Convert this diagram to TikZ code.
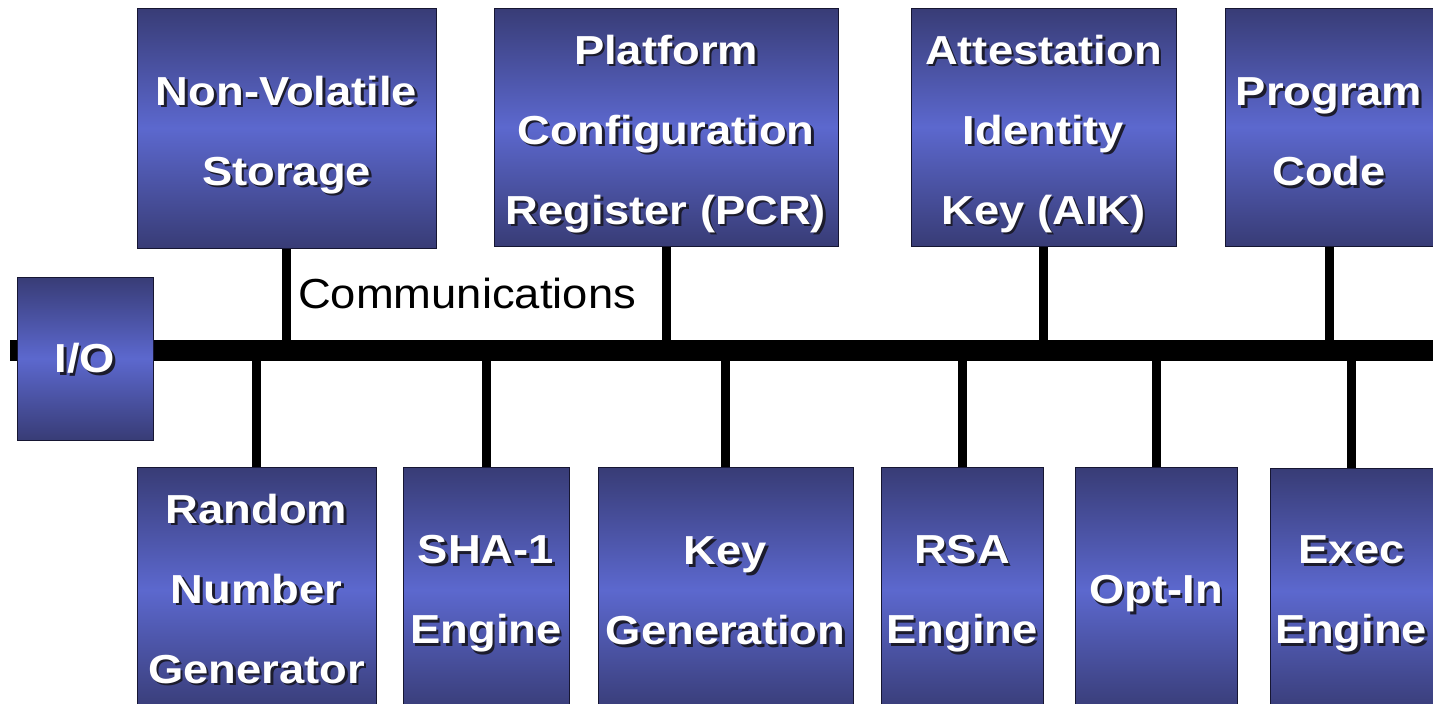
\documentclass[tikz,border=0pt]{standalone}
\usepackage{fontspec}
\setmainfont{Liberation Sans}
\newfontfamily\boxfont[FakeStretch=1.12]{Liberation Sans}
\newfontfamily\commfont[FakeStretch=1.08]{Liberation Sans}
\definecolor{boxdark}{RGB}{56,60,118}
\definecolor{boxlight}{RGB}{92,104,206}
\definecolor{boxedge}{RGB}{22,22,50}
\definecolor{shadowc}{RGB}{28,28,45}
\newcommand\boxlabel[3][0]{%
  \node[lblshadow] (#2-s) at ([shift={(2.5,2.5+#1)}]#2.center) {#3};
  \node[lbl] (#2-t) at ([shift={(0,#1)}]#2.center) {#3};}
\begin{document}
\begin{tikzpicture}[x=1pt,y=-1pt,
  box/.style={draw=boxedge, line width=1pt, top color=boxdark, bottom color=boxdark, middle color=boxlight, inner sep=0pt, outer sep=0pt},
  lbl/.style={text=white, font=\boxfont\bfseries\fontsize{40.5}{80}\selectfont, align=center, inner sep=0pt},
  lblshadow/.style={lbl, text=shadowc},
  busline/.style={line width=21pt},
  conn/.style={line width=9pt},
  slot/.style={inner sep=0pt, outer sep=0pt}]
\useasboundingbox (0,0) rectangle (1433,704);
\clip (0,0) rectangle (1433,704);
\fill[white] (0,0) rectangle (1433,704);

% box positions
\node[slot, minimum width=299pt, minimum height=240pt] (nv) at (286.5,128) {};
\node[slot, minimum width=344pt, minimum height=238pt] (pcr) at (666,127) {};
\node[slot, minimum width=265pt, minimum height=238pt] (aik) at (1043.5,127) {};
\node[slot, minimum width=208pt, minimum height=238pt] (prog) at (1329,127) {};
\node[slot, minimum width=136pt, minimum height=163pt] (io) at (85,358.5) {};
\node[slot, minimum width=239pt, minimum height=245pt] (rng) at (256.5,590) {};
\node[slot, minimum width=166pt, minimum height=245pt] (sha) at (486,590) {};
\node[slot, minimum width=255pt, minimum height=245pt] (kg) at (725.5,590) {};
\node[slot, minimum width=162pt, minimum height=245pt] (rsa) at (962,590) {};
\node[slot, minimum width=162pt, minimum height=245pt] (opt) at (1156,590) {};
\node[slot, minimum width=163pt, minimum height=245pt] (exec) at (1351.5,591) {};

% bus
\coordinate (busL) at (10,350);
\coordinate (busR) at (1440,350);
\draw[busline] (busL) -- (busR);
\foreach \n in {nv,pcr,aik,prog}
  \draw[conn] (\n.south) -- (\n.south |- busL);
\foreach \n in {rng,sha,kg,rsa,opt,exec}
  \draw[conn] (\n.north) -- (\n.north |- busL);

% shaded boxes
\foreach \n in {nv,pcr,aik,prog,io,rng,sha,kg,rsa,opt,exec}
  \path[box] (\n.north west) rectangle (\n.south east);

\boxlabel[7]{nv}{Non-Volatile\\Storage}
\boxlabel[7]{pcr}{Platform\\Configuration\\Register (PCR)}
\boxlabel[7]{aik}{Attestation\\Identity\\Key (AIK)}
\boxlabel[5]{prog}{Program\\Code}
\boxlabel{io}{I/O}
\boxlabel[-1]{rng}{Random\\Number\\Generator}
\boxlabel[4]{sha}{SHA-1\\Engine}
\boxlabel[1]{kg}{Key\\Generation}
\boxlabel[4]{rsa}{RSA\\Engine}
\boxlabel[4]{opt}{Opt-In}
\boxlabel[3]{exec}{Exec\\Engine}

\node[font=\commfont\fontsize{42}{50}\selectfont, anchor=base west, inner sep=0pt] (comm) at (298,308) {Communications};
\end{tikzpicture}
\end{document}
